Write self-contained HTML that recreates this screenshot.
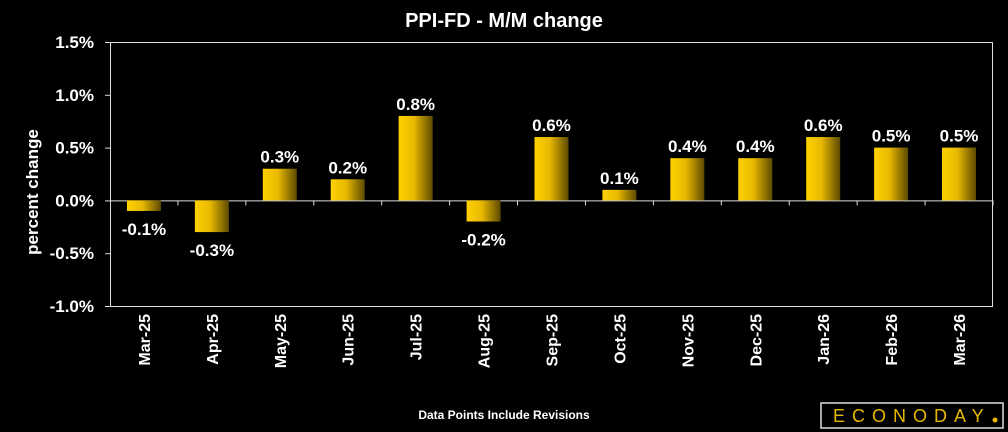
<!DOCTYPE html>
<html><head><meta charset="utf-8"><style>
body{margin:0;background:#000;width:1008px;height:432px;overflow:hidden}
svg{display:block;font-family:"Liberation Sans",sans-serif}
</style></head><body>
<svg width="1008" height="432">
<defs><linearGradient id="g" x1="0" x2="1" y1="0" y2="0"><stop offset="0" stop-color="#ffd200"/><stop offset="0.45" stop-color="#e8b800"/><stop offset="1" stop-color="#5c4a00"/></linearGradient></defs>
<text x="504" y="27" fill="#fff" font-size="20" font-weight="bold" text-anchor="middle">PPI-FD - M/M change</text>
<text transform="translate(38,192) rotate(-90)" fill="#fff" font-size="17" font-weight="bold" text-anchor="middle">percent change</text>
<rect x="110.5" y="42.5" width="882" height="264" fill="none" stroke="#ddd" stroke-width="1"/>
<g id="yaxis"></g><g id="bars"></g><g id="xlabels"></g>
<text x="504" y="419" fill="#fff" font-size="12" font-weight="bold" text-anchor="middle">Data Points Include Revisions</text>
<g>
<rect x="821" y="403" width="182" height="25" fill="#000" stroke="#ddd" stroke-width="1.5"/>
<text x="833" y="422" fill="#e8b800" font-size="18" letter-spacing="7">ECONODAY</text>
<circle cx="995" cy="420" r="2.5" fill="#e8b800"/>
</g>
</svg>
<script>
const categories=["Mar-25","Apr-25","May-25","Jun-25","Jul-25","Aug-25","Sep-25","Oct-25","Nov-25","Dec-25","Jan-26","Feb-26","Mar-26"];
const values=[-0.1,-0.3,0.3,0.2,0.8,-0.2,0.6,0.1,0.4,0.4,0.6,0.5,0.5];
const yTicks=[1.5,1.0,0.5,0.0,-0.5,-1.0];
const NS="http://www.w3.org/2000/svg";
const L=110,R=993,T=42,B=306,ymax=1.5,ymin=-1.0;
const y=v=>T+(ymax-v)/(ymax-ymin)*(B-T);
const step=(R-L)/categories.length;
const xc=i=>L+step*(i+0.5);
function mk(tag,attrs,parent,txt){const e=document.createElementNS(NS,tag);for(const k in attrs)e.setAttribute(k,attrs[k]);if(txt!=null)e.textContent=txt;document.getElementById(parent).appendChild(e);return e;}
yTicks.forEach(v=>{
 const l=mk('line',{x1:L-5,x2:L,y1:y(v)+.5,y2:y(v)+.5,stroke:'#ddd'},'yaxis');
 
 
 const t=mk('text',{x:L-16,y:y(v)+6,fill:'#fff','font-size':17,'font-weight':'bold','text-anchor':'end'},'yaxis',v.toFixed(1)+'%');
 
 
});
const z=mk('line',{x1:L,x2:R,y1:y(0)+.5,y2:y(0)+.5,stroke:'#ddd'},'yaxis');


categories.forEach((c,i)=>{
 const tk=mk('line',{x1:L+step*(i+1),x2:L+step*(i+1),y1:y(0),y2:y(0)+5,stroke:'#ddd'},'yaxis');
 
 
 const v=values[i],bw=34,x0=xc(i)-bw/2;
 const y1=Math.min(y(v),y(0)),h=Math.abs(y(v)-y(0));
 const b=mk('rect',{x:x0,y:y1,width:bw,height:h,fill:'url(#g)'},'bars');
 
 
 const ly=v>=0?y(v)-6:y(v)+24;
 const lb=mk('text',{x:xc(i),y:ly,fill:'#fff','font-size':17,'font-weight':'bold','text-anchor':'middle'},'bars',v.toFixed(1)+'%');
 
 
 const xl=mk('text',{transform:`translate(${xc(i)+6},314) rotate(-90)`,fill:'#fff','font-size':16,'font-weight':'bold','text-anchor':'end'},'xlabels',c);
 
 
});
</script>
</body></html>
